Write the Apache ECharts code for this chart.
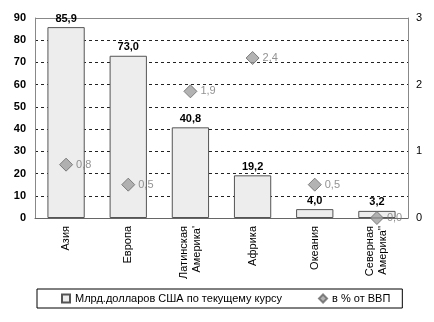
<!DOCTYPE html>
<html>
<head>
<meta charset="utf-8">
<script src="https://cdn.jsdelivr.net/npm/echarts@6/dist/echarts.min.js"></script>
<style>
  html, body { margin: 0; padding: 0; background: #fff; }
  #chart { width: 434px; height: 322px; }
</style>
</head>
<body>
<div id="chart"></div>
<script>
// Regions
const regions = ['Азия', 'Европа', 'Латинская\nАмерика\'', 'Африка', 'Океания', 'Северная\nАмерика\'\''];
// Billion US dollars at current exchange rate
const usdBillions = [85.9, 73.0, 40.8, 19.2, 4.0, 3.2];
// Share of GDP, %
const gdpShare = [0.8, 0.5, 1.9, 2.4, 0.5, 0.0];
// Axis tick ranges
const leftTicks = { min: 0, max: 90, step: 10 };
const rightTicks = { min: 0, max: 3, step: 1 };

const seriesNames = ['Млрд.долларов США по текущему курсу', 'в % от ВВП'];
const fmt = v => v.toFixed(1).replace('.', ',');
const font = 'Liberation Sans, Arial, sans-serif';

const chart = echarts.init(document.getElementById('chart'));
chart.setOption({
  animation: false,
  textStyle: { fontFamily: font },
  grid: { left: 35, right: 26, top: 18, bottom: 104 },
  legend: {
    left: 37, top: 289,
    padding: [4, 12, 4, 24],
    itemGap: 36,
    itemWidth: 8, itemHeight: 8,
    borderColor: '#000', borderWidth: 1,
    textStyle: { fontSize: 11, color: '#000', fontFamily: font },
    data: [
      { name: seriesNames[0], icon: 'rect' },
      { name: seriesNames[1], icon: 'diamond' }
    ]
  },
  xAxis: {
    type: 'category',
    data: regions,
    axisLine: { lineStyle: { color: '#666', width: 1 } },
    axisTick: { show: false },
    axisLabel: { rotate: 90, fontSize: 11, color: '#000', margin: 8, lineHeight: 13 }
  },
  yAxis: [
    {
      type: 'value', min: leftTicks.min, max: leftTicks.max, interval: leftTicks.step,
      axisLine: { show: true, lineStyle: { color: '#888' } },
      axisTick: { show: false },
      axisLabel: { fontSize: 11, fontWeight: 'bold', color: '#000', margin: 9 },
      splitLine: { lineStyle: { color: '#222', type: [3, 3], width: 1 } }
    },
    {
      type: 'value', min: rightTicks.min, max: rightTicks.max, interval: rightTicks.step,
      axisLine: { show: true, lineStyle: { color: '#888' } },
      axisTick: { show: false },
      axisLabel: { fontSize: 11, color: '#000', margin: 8 },
      splitLine: { show: false }
    }
  ],
  series: [
    {
      name: seriesNames[0],
      type: 'bar',
      data: usdBillions,
      barWidth: '60%',
      itemStyle: { color: '#ededed', borderColor: '#555', borderWidth: 1 },
      label: {
        show: true, position: 'top', distance: 3,
        fontSize: 11, fontWeight: 'bold', color: '#000',
        formatter: p => fmt(p.value)
      },
      z: 2
    },
    {
      name: seriesNames[1],
      type: 'scatter',
      yAxisIndex: 1,
      data: gdpShare,
      symbol: 'diamond',
      symbolSize: [13, 13],
      itemStyle: { color: '#a0a0a0', borderColor: '#666', borderWidth: 1 },
      label: {
        show: true, position: 'right', distance: 3,
        fontSize: 11, color: '#777',
        formatter: p => fmt(p.value)
      },
      z: 3
    }
  ],
  graphic: [
    // top frame line of the plot area
    { type: 'line', shape: { x1: 35, y1: 18.5, x2: 408, y2: 18.5 }, style: { stroke: '#888', lineWidth: 1 }, z: 1 }
  ]
});
</script>
</body>
</html>
